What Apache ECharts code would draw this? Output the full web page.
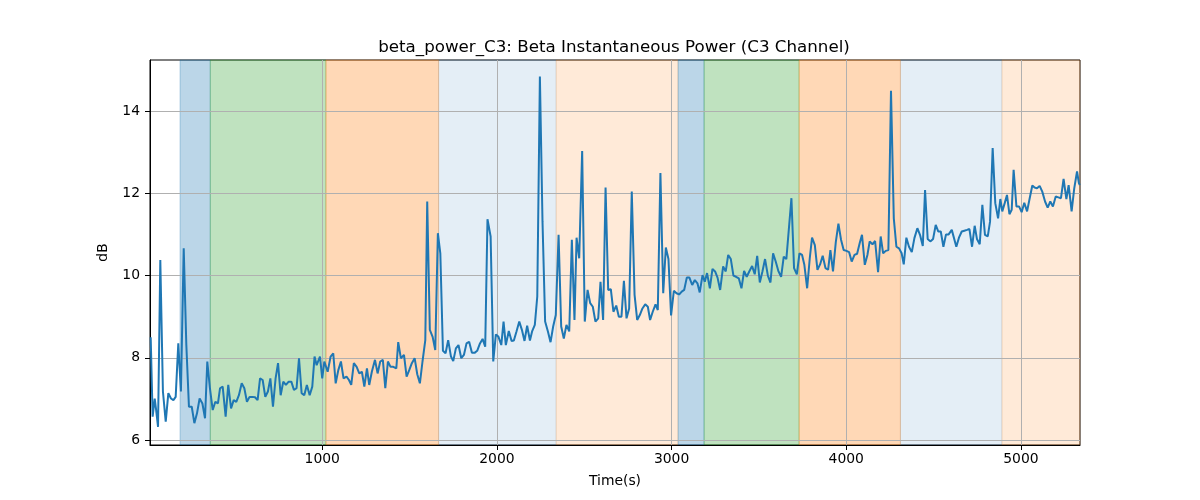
<!DOCTYPE html>
<html><head><meta charset="utf-8">
<script src="https://cdn.jsdelivr.net/npm/echarts@6/dist/echarts.min.js"></script>
<style>html,body{margin:0;padding:0;background:#fff}#c{width:1200px;height:500px}</style>
</head><body><div id="c"></div>
<script>
const timeSec = [18,29,41,48,60,73,88,104,119,134,148,161,176,191,207,222,237,253,268,283,298,314,329,342,357,373,388,403,415,430,447,462,478,493,508,523,539,554,569,584,600,615,630,644,659,674,689,703,718,733,747,762,777,792,808,823,838,853,867,882,897,912,928,
943,956,968,987,1000,1012,1031,1048,1063,1077,1092,1107,1122,1139,1153,1166,1181,1197,1212,1227,1241,1256,1269,1284,1302,1317,1332,1347,1361,1376,1391,1407,1424,1435,1450,1468,1483,1498,1513,1529,1544,1559,1574,1590,1601,1616,1632,1647,1662,1676,1691,1706,1721,1737,1750,1765,1780,1796,1811,1826,1841,
1857,1872,1887,1903,1918,1933,1946,1964,1979,1994,2009,2025,2038,2051,2068,2084,2097,2112,2128,2143,2158,2173,2189,2202,2217,2231,2246,2261,2276,2292,2307,2322,2337,2353,2368,2383,2398,2414,2429,2444,2456,2471,2488,2503,2519,2534,2549,2564,2580,2593,2608,2622,2637,2652,2667,2683,2698,2713,2727,2742,2757,
2772,2788,2803,2818,2833,2849,2864,2877,2892,2908,2921,2936,2952,2967,2982,2997,3013,3028,3043,3058,3072,3087,3102,3118,3133,3148,3161,3177,3190,3203,3219,3234,3249,3263,3278,3295,3310,3324,3339,3354,3369,3385,3400,3415,3430,3446,3461,3476,3490,3505,3520,3535,3551,3566,3581,3596,3612,3627,3642,3657,
3686,3701,3717,3732,3747,3760,3776,3791,3804,3820,3835,3850,3865,3881,3896,3909,3924,3940,3955,3970,3985,4001,4016,4031,4047,4062,4077,4090,4106,4121,4134,4150,4165,4182,4197,4211,4226,4241,4256,4272,4287,4302,4317,4329,4344,4359,4375,4390,4407,4422,4438,4451,4466,4481,4497,4512,4527,4541,4556,4571,4586,
4604,4615,4630,4645,4661,4676,4691,4705,4720,4735,4748,4764,4779,4794,4810,4823,4838,4853,4869,4882,4893,4907,4920,4934,4947,4958,4974,4989,5004,5019,5035,5050,5065,5078,5092,5107,5122,5138,5153,5168,5183,5199,5214,5229,5244,5260,5273,5290,5305,5321,5332,5337];
const powerDb = [8.5,6.57,7.01,6.77,6.32,10.38,7.18,6.45,7.14,7.01,6.97,7.05,8.35,7.18,10.66,8.31,6.81,6.81,6.41,6.65,7.01,6.89,6.53,7.91,7.26,6.73,6.93,6.89,7.26,7.30,6.57,7.34,6.77,6.97,6.93,7.09,7.38,7.26,6.93,7.05,7.05,7.04,6.97,7.50,7.46,7.05,7.18,7.50,6.81,7.50,7.87,7.09,7.42,7.34,7.42,7.42,7.22,7.26,7.99,7.14,7.09,7.34,7.09,
7.30,8.03,7.82,8.03,7.50,7.91,7.66,8.03,8.11,7.38,7.70,7.91,7.50,7.54,7.46,7.34,7.87,7.78,7.62,7.66,7.30,7.74,7.34,7.66,7.95,7.62,7.91,7.95,7.26,7.91,7.78,7.78,7.74,8.38,7.99,8.07,7.54,7.70,7.87,7.99,7.60,7.38,7.91,8.43,11.80,8.68,8.51,8.19,11.03,10.54,8.17,8.11,8.43,8.03,7.92,8.23,8.31,7.99,8.07,8.35,8.39,
8.12,8.12,8.17,8.35,8.46,8.27,11.37,10.95,7.91,8.57,8.51,8.31,8.88,8.31,8.65,8.41,8.42,8.64,8.88,8.68,8.41,8.78,8.42,8.65,8.80,9.49,14.84,11.31,8.88,8.64,8.38,8.76,9.04,10.99,8.76,8.47,8.80,8.64,10.87,8.92,10.92,10.42,13.03,8.88,9.65,9.33,9.24,8.88,8.96,9.85,8.92,12.14,9.65,9.67,9.12,9.27,9.00,9.00,9.87,8.96,9.20,
12.04,9.53,8.92,9.04,9.20,9.30,9.24,8.92,9.12,9.30,9.16,12.49,9.57,10.68,10.40,9.03,9.63,9.57,9.54,9.61,9.65,9.95,9.95,9.77,9.89,9.81,9.59,10.01,9.85,10.06,9.69,10.16,10.10,9.95,9.65,10.22,10.10,10.50,10.40,10.00,9.97,9.93,9.69,10.11,9.97,10.11,10.23,10.03,10.48,9.83,10.10,10.40,10.00,9.83,10.54,10.34,10.10,9.97,10.46,10.40,
11.88,10.18,10.03,10.54,10.50,10.26,9.69,10.42,10.92,10.74,10.14,10.27,10.48,10.18,10.14,10.62,10.10,10.81,11.26,10.87,10.62,10.60,10.57,10.34,10.50,10.53,10.79,10.99,10.26,10.50,10.83,10.76,10.84,10.08,10.95,10.54,10.60,10.62,14.49,11.39,10.70,10.66,10.54,10.27,10.92,10.70,10.57,10.91,11.15,10.99,10.72,12.08,10.89,10.83,10.89,11.23,11.07,11.07,10.70,11.00,11.00,
11.11,11.13,10.70,10.92,11.07,11.09,11.11,11.13,10.70,11.21,10.89,10.76,11.72,10.99,10.95,11.31,13.10,11.76,11.39,11.86,11.56,11.76,11.96,11.49,11.60,12.57,11.68,11.68,11.54,11.77,11.56,11.88,12.19,12.14,12.12,12.18,12.04,11.80,11.65,11.80,11.68,11.92,11.90,11.88,12.35,11.86,12.20,11.56,12.12,12.53,12.24,12.2];
const bandStart = [186,359,1021,1666,2339,3037,3186,3730,4310,4891];
const bandEnd   = [359,1021,1666,2339,3037,3186,3730,4310,4891,5338];
const bandKind  = ['blue','green','orange','lightblue','lightorange','blue','green','orange','lightblue','lightorange'];
const xTicks = [1000,2000,3000,4000,5000];
const yTicks = [6,8,10,12,14];

const X_MIN = 14, X_MAX = 5338, Y_MIN = 5.88, Y_MAX = 15.24;
const bandColors = {
  blue: 'rgba(31,119,180,0.3)',
  green: 'rgba(44,160,44,0.3)',
  orange: 'rgba(255,127,14,0.3)',
  lightblue: 'rgba(31,119,180,0.12)',
  lightorange: 'rgba(255,127,14,0.16)'
};
const FONT = 'DejaVu Sans';

const seriesData = timeSec.map((t, i) => [t, powerDb[i]]);
const areas = bandStart.map((s, i) => {
  const c = bandColors[bandKind[i]];
  return [{xAxis: s, itemStyle: {color: c, borderColor: c, borderWidth: 1}}, {xAxis: bandEnd[i]}];
});

const chart = echarts.init(document.getElementById('c'), null, {renderer: 'canvas'});
chart.setOption({
  animation: false,
  backgroundColor: '#fff',
  title: {
    text: 'beta_power_C3: Beta Instantaneous Power (C3 Channel)',
    left: 609, top: 34, textAlign: 'center',
    textStyle: {fontFamily: FONT, fontSize: 16.7, fontWeight: 'normal', color: '#000'}
  },
  grid: {left: 150, right: 120, top: 60, bottom: 55, show: true, borderColor: '#000', borderWidth: 1, backgroundColor: 'transparent'},
  xAxis: {
    type: 'value', min: X_MIN, max: X_MAX, z: 2,
    name: 'Time(s)', nameLocation: 'middle', nameGap: 29,
    nameTextStyle: {fontFamily: FONT, fontSize: 13.9, color: '#000'},
    axisLine: {show: true, onZero: false, lineStyle: {color: '#000', width: 1}},
    axisTick: {show: true, customValues: xTicks, length: 5, lineStyle: {color: '#000'}},
    axisLabel: {customValues: xTicks, formatter: v => String(v), fontFamily: FONT, fontSize: 13.9, color: '#000', margin: 7},
    splitLine: {show: true, lineStyle: {color: '#b0b0b0', width: 1}}
  },
  yAxis: {
    type: 'value', min: Y_MIN, max: Y_MAX, z: 2,
    name: 'dB', nameLocation: 'middle', nameGap: 40, nameRotate: 90,
    nameTextStyle: {fontFamily: FONT, fontSize: 13.9, color: '#000'},
    axisLine: {show: true, onZero: false, lineStyle: {color: '#000', width: 1}},
    axisTick: {show: true, customValues: yTicks, length: 5, lineStyle: {color: '#000'}},
    axisLabel: {customValues: yTicks, formatter: v => String(v), fontFamily: FONT, fontSize: 13.9, color: '#000', margin: 10},
    splitLine: {show: true, lineStyle: {color: '#b0b0b0', width: 1}}
  },
  series: [
    {
      type: 'line', data: [], z: 1, silent: true,
      markArea: {silent: true, z: 1, label: {show: false}, data: areas}
    },
    {
      type: 'line', data: seriesData, z: 3, showSymbol: false, symbol: 'none',
      lineStyle: {color: '#1f77b4', width: 2}, itemStyle: {color: '#1f77b4'}
    }
  ]
});
</script></body></html>
